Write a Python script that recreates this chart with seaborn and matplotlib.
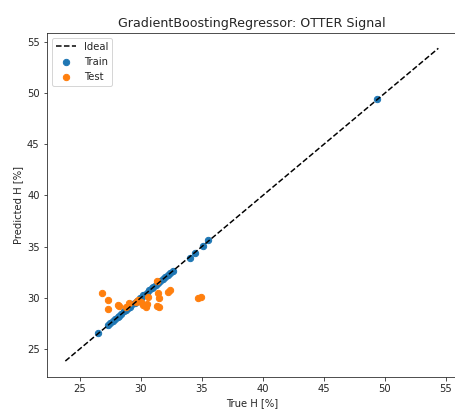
import matplotlib
matplotlib.use("Agg")
import matplotlib.pyplot as plt
import seaborn as sns
import pandas as pd

# Train set: true vs. predicted H [%]
train_true = [26.5, 27.3, 27.5, 27.7, 27.9, 28.1, 28.2, 28.4, 28.6, 28.8, 28.9,
              29.1, 29.3, 29.5, 29.7, 29.9, 30.0, 30.2, 30.3, 30.5, 30.7, 30.9,
              31.0, 31.2, 31.4, 31.6, 31.8, 32.0, 32.2, 32.4, 32.6,
              34.0, 34.4, 35.1, 35.5, 49.4]
train_pred = [26.55, 27.35, 27.5, 27.75, 27.9, 28.15, 28.2, 28.4, 28.65, 28.8, 28.95,
              29.1, 29.35, 29.5, 29.7, 29.95, 30.0, 30.25, 30.3, 30.5, 30.75, 30.9,
              31.05, 31.2, 31.45, 31.6, 31.8, 32.05, 32.2, 32.4, 32.6,
              33.9, 34.4, 35.1, 35.6, 49.4]

# Test set: true vs. predicted H [%]
test_true = [26.8, 27.3, 27.3, 28.1, 28.2, 28.75, 29.0, 29.6, 29.8, 30.0, 30.2,
             30.4, 30.5, 30.6, 31.3, 31.35, 31.4, 31.5, 31.5, 32.25, 32.4,
             34.7, 34.9]
test_pred = [30.5, 29.8, 28.9, 29.3, 29.2, 29.1, 29.5, 29.6, 29.75, 29.6, 29.3,
             29.1, 29.4, 30.05, 31.6, 29.2, 30.5, 30.0, 29.1, 30.6, 30.8,
             29.95, 30.05]

# Reference diagonal
ideal = [23.8, 54.4]

train_df = pd.DataFrame({"true": train_true, "pred": train_pred})
test_df = pd.DataFrame({"true": test_true, "pred": test_pred})
ideal_df = pd.DataFrame({"true": ideal, "pred": ideal})

sns.set_style("ticks")
plt.rcParams["font.family"] = ["DejaVu Sans"]

fig = plt.figure(figsize=(455 / 72, 412 / 72), dpi=72)
# the axes runs slightly past the right edge of the canvas
ax = fig.add_axes([0.1026, 0.0857, 0.9018, 0.835])

sns.lineplot(data=ideal_df, x="true", y="pred", ax=ax, color="black",
             linestyle="--", linewidth=1.5, label="Ideal")
sns.scatterplot(data=train_df, x="true", y="pred", ax=ax, color="#1f77b4",
                edgecolor="#1f77b4", linewidth=1, s=40, label="Train")
sns.scatterplot(data=test_df, x="true", y="pred", ax=ax, color="#ff7f0e",
                edgecolor="#ff7f0e", linewidth=1, s=40, label="Test")

ax.set_xlabel("True H [%]")
ax.set_ylabel("Predicted H [%]")
ax.set_title("GradientBoostingRegressor: OTTER Signal", fontsize=12.6)
ax.legend(loc="upper left")

fig.savefig("out.png", dpi=72)
